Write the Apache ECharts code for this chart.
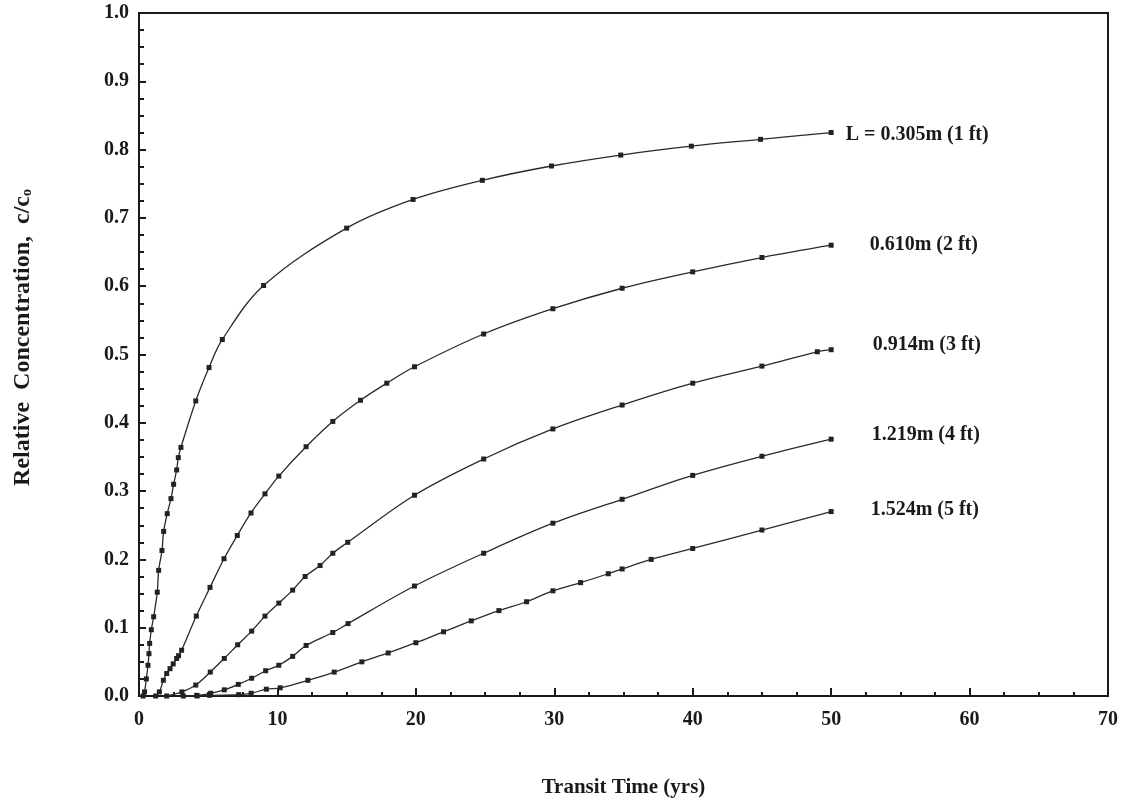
<!DOCTYPE html>
<html>
<head>
<meta charset="utf-8">
<script src="https://cdn.jsdelivr.net/npm/echarts@6/dist/echarts.min.js"></script>
<style>
html,body{margin:0;padding:0;background:#fff;}
#chart{width:1130px;height:802px;}
</style>
</head>
<body>
<div id="chart"></div>
<script>
// ---- data ----
const seriesNames = ["L = 0.305m (1 ft)", "0.610m (2 ft)", "0.914m (3 ft)", "1.219m (4 ft)", "1.524m (5 ft)"];

const t1 = [0.3, 0.4, 0.53, 0.65, 0.72, 0.77, 0.89, 1.06, 1.32, 1.42, 1.66, 1.78, 2.04, 2.31, 2.5, 2.72, 2.84, 3.03, 4.1, 5.06, 6.02, 9.0, 15.0, 19.8, 24.8, 29.8, 34.8, 39.9, 44.9, 50];
const c1 = [0.0, 0.006, 0.025, 0.045, 0.062, 0.077, 0.097, 0.116, 0.152, 0.184, 0.213, 0.241, 0.267, 0.289, 0.31, 0.331, 0.349, 0.364, 0.432, 0.481, 0.522, 0.601, 0.685, 0.727, 0.755, 0.776, 0.792, 0.805, 0.815, 0.825];

const t2 = [1.2, 1.47, 1.76, 2.0, 2.24, 2.47, 2.72, 2.86, 3.08, 4.14, 5.13, 6.14, 7.1, 8.09, 9.1, 10.1, 12.07, 14.0, 16.0, 17.9, 19.9, 24.9, 29.9, 34.9, 40, 45, 50];
const c2 = [0.0, 0.006, 0.023, 0.033, 0.04, 0.047, 0.055, 0.059, 0.067, 0.117, 0.159, 0.201, 0.235, 0.268, 0.296, 0.322, 0.365, 0.402, 0.433, 0.458, 0.482, 0.530, 0.567, 0.597, 0.621, 0.642, 0.660];

const t3 = [2.0, 3.1, 4.1, 5.15, 6.16, 7.13, 8.14, 9.1, 10.1, 11.1, 12.0, 13.08, 14.0, 15.08, 19.9, 24.9, 29.9, 34.9, 40, 45, 49, 50];
const c3 = [0.0, 0.006, 0.016, 0.035, 0.055, 0.075, 0.095, 0.117, 0.136, 0.155, 0.175, 0.191, 0.209, 0.225, 0.294, 0.347, 0.391, 0.426, 0.458, 0.483, 0.504, 0.507];

const t4 = [3.2, 4.17, 5.18, 6.16, 7.17, 8.14, 9.15, 10.1, 11.1, 12.07, 14.0, 15.1, 19.9, 24.9, 29.9, 34.9, 40, 45, 50];
const c4 = [0.0, 0.001, 0.004, 0.009, 0.017, 0.026, 0.037, 0.045, 0.058, 0.074, 0.093, 0.106, 0.161, 0.209, 0.253, 0.288, 0.323, 0.351, 0.376];

const t5 = [4.2, 5.1, 7.2, 8.1, 9.2, 10.2, 12.2, 14.1, 16.1, 18.0, 20.0, 22.0, 24.0, 26.0, 28.0, 29.9, 31.9, 33.9, 34.9, 37.0, 40.0, 45.0, 50.0];
const c5 = [0.0, 0.001, 0.002, 0.004, 0.010, 0.012, 0.023, 0.035, 0.050, 0.063, 0.078, 0.094, 0.110, 0.125, 0.138, 0.154, 0.166, 0.179, 0.186, 0.200, 0.216, 0.243, 0.270];

const xTicks = [0, 10, 20, 30, 40, 50, 60, 70];
const yTicks = [0.0, 0.1, 0.2, 0.3, 0.4, 0.5, 0.6, 0.7, 0.8, 0.9, 1.0];

// ---- build ----
const FONT = '"Liberation Serif", "DejaVu Serif", serif';
const INK = '#1a1a1a';
const labelStyles = [
  {distance: 12, offset: [0, 2]},
  {distance: 36, offset: [0, 0]},
  {distance: 39, offset: [0, -5]},
  {distance: 38, offset: [0, -4]},
  {distance: 37, offset: [0, -2]}
];
const allT = [t1, t2, t3, t4, t5];
const allC = [c1, c2, c3, c4, c5];

const series = allT.map((ts, i) => {
  const cs = allC[i];
  const data = ts.map((t, j) => {
    const item = {value: [t, cs[j]]};
    if (j === ts.length - 1) {
      item.label = {
        show: true,
        position: 'right',
        distance: labelStyles[i].distance,
        offset: labelStyles[i].offset,
        formatter: seriesNames[i],
        fontFamily: FONT,
        fontWeight: 'bold',
        fontSize: 20,
        color: INK
      };
    }
    return item;
  });
  return {
    name: seriesNames[i],
    type: 'line',
    data: data,
    smooth: 0.35,
    symbol: 'rect',
    symbolSize: 5,
    showAllSymbol: true,
    lineStyle: {color: '#2a2a2a', width: 1.3},
    itemStyle: {color: '#222'},
    emphasis: {disabled: true},
    animation: false,
    z: 5
  };
});

const chart = echarts.init(document.getElementById('chart'), null, {renderer: 'canvas'});
chart.setOption({
  backgroundColor: '#ffffff',
  animation: false,
  grid: {
    left: 139, right: 22, top: 13, bottom: 106,
    containLabel: false,
    outerBoundsMode: 'none',
    show: true, borderColor: INK, borderWidth: 2, backgroundColor: 'transparent'
  },
  xAxis: {
    type: 'value',
    min: xTicks[0], max: xTicks[xTicks.length - 1], interval: 10,
    name: 'Transit Time (yrs)',
    nameLocation: 'middle',
    nameGap: 81,
    nameTextStyle: {fontFamily: FONT, fontWeight: 'bold', fontSize: 21, color: INK},
    axisLine: {show: true, lineStyle: {color: INK, width: 2}},
    axisTick: {show: true, inside: true, length: 8, lineStyle: {color: INK, width: 2}},
    minorTick: {show: true, splitNumber: 4, length: 4, lineStyle: {color: INK, width: 2}},
    splitLine: {show: false},
    axisLabel: {
      fontFamily: FONT, fontWeight: 'bold', fontSize: 20, color: INK, margin: 14,
      formatter: v => String(v)
    }
  },
  yAxis: {
    type: 'value',
    min: 0, max: 1, interval: 0.1,
    name: 'Relative  Concentration,  c/cₒ',
    nameLocation: 'middle',
    nameGap: 104,
    nameRotate: 90,
    nameTextStyle: {fontFamily: FONT, fontWeight: 'bold', fontSize: 24, color: INK, padding: [0, 0, 0, 34]},
    axisLine: {show: true, lineStyle: {color: INK, width: 2}},
    axisTick: {show: true, inside: true, length: 7, lineStyle: {color: INK, width: 2}},
    minorTick: {show: true, splitNumber: 4, length: 5, lineStyle: {color: INK, width: 2}},
    splitLine: {show: false},
    axisLabel: {
      fontFamily: FONT, fontWeight: 'bold', fontSize: 20, color: INK, margin: 10,
      formatter: v => v.toFixed(1)
    }
  },
  series: series
});
</script>
</body>
</html>
